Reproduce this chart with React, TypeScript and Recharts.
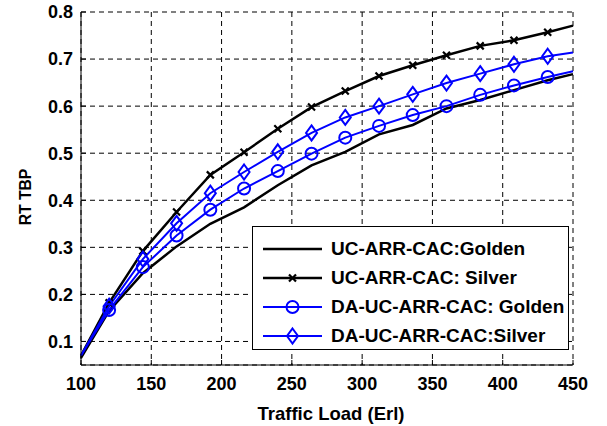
import React from 'react';
import { LineChart, Line, XAxis, YAxis, CartesianGrid, Legend } from 'recharts';

// Traffic load (Erl) sample points
const loads = [100, 120, 144, 168, 192, 216, 240, 264, 288, 312, 336, 360, 384, 408, 432, 450];

// RT TBP per scheme / class
const ucGolden = [0.065, 0.165, 0.245, 0.302, 0.35, 0.385, 0.432, 0.474, 0.503, 0.54, 0.56, 0.595, 0.613, 0.634, 0.655, 0.668];
const ucSilver = [0.07, 0.182, 0.292, 0.375, 0.454, 0.502, 0.552, 0.598, 0.632, 0.664, 0.687, 0.708, 0.728, 0.74, 0.757, 0.771];
const daGolden = [0.07, 0.167, 0.258, 0.325, 0.38, 0.425, 0.462, 0.499, 0.533, 0.558, 0.581, 0.6, 0.624, 0.644, 0.662, 0.674];
const daSilver = [0.07, 0.175, 0.275, 0.351, 0.415, 0.46, 0.503, 0.543, 0.576, 0.6, 0.625, 0.649, 0.669, 0.689, 0.706, 0.714];

const xTicks = [100, 150, 200, 250, 300, 350, 400, 450];
const yTicks = [0.1, 0.2, 0.3, 0.4, 0.5, 0.6, 0.7, 0.8];

const FONT = '"Liberation Sans", Arial, Helvetica, sans-serif';
const BLUE = '#0000ff';

type Marker = 'none' | 'cross' | 'circle' | 'diamond';

const series = [
  { key: 'ucGolden', name: 'UC-ARR-CAC:Golden', color: '#000000', width: 2.5, marker: 'none' as Marker },
  { key: 'ucSilver', name: 'UC-ARR-CAC: Silver', color: '#000000', width: 2.5, marker: 'cross' as Marker },
  { key: 'daGolden', name: 'DA-UC-ARR-CAC: Golden', color: BLUE, width: 2, marker: 'circle' as Marker },
  { key: 'daSilver', name: 'DA-UC-ARR-CAC:Silver', color: BLUE, width: 2, marker: 'diamond' as Marker },
];

const data = loads.map((load, i) => ({
  load,
  ucGolden: ucGolden[i],
  ucSilver: ucSilver[i],
  daGolden: daGolden[i],
  daSilver: daSilver[i],
}));

const MarkerShape = ({ type, cx, cy, color }: { type: Marker; cx: number; cy: number; color: string }) => {
  if (type === 'cross') {
    const s = 3.5;
    return (
      <path
        d={`M${cx - s},${cy - s}L${cx + s},${cy + s}M${cx - s},${cy + s}L${cx + s},${cy - s}`}
        stroke={color}
        strokeWidth={2.2}
        fill="none"
      />
    );
  }
  if (type === 'circle') {
    return <circle cx={cx} cy={cy} r={6} stroke={color} strokeWidth={2} fill="none" />;
  }
  if (type === 'diamond') {
    return (
      <path
        d={`M${cx},${cy - 7.5}L${cx + 5.5},${cy}L${cx},${cy + 7.5}L${cx - 5.5},${cy}Z`}
        stroke={color}
        strokeWidth={2}
        fill="none"
      />
    );
  }
  return null;
};

// markers only on interior samples; the end points sit on the axes limits
const makeDot = (type: Marker, color: string) => (props: any) => {
  const { cx, cy, index } = props;
  if (type === 'none' || index === 0 || index === loads.length - 1) {
    return <g key={`dot-${index}`} />;
  }
  return (
    <g key={`dot-${index}`}>
      <MarkerShape type={type} cx={cx} cy={cy} color={color} />
    </g>
  );
};

const LegendBox = () => (
  <div
    style={{
      width: 317,
      height: 124,
      boxSizing: 'border-box',
      border: '1.5px solid #000',
      background: '#fff',
      paddingTop: 7,
      fontFamily: FONT,
      fontWeight: 'bold',
      fontSize: 19,
      color: '#000',
    }}
  >
    {series.map(s => (
      <div key={s.key} style={{ display: 'flex', alignItems: 'center', height: 29 }}>
        <svg width={78} height={20} style={{ flexShrink: 0 }}>
          <line x1={10} y1={10} x2={69} y2={10} stroke={s.color} strokeWidth={s.width} />
          <MarkerShape type={s.marker} cx={39.5} cy={10} color={s.color} />
        </svg>
        <span style={{ whiteSpace: 'nowrap' }}>{s.name}</span>
      </div>
    ))}
  </div>
);

const tickStyle = { fontFamily: FONT, fontWeight: 'bold' as const, fontSize: 18, fill: '#000' };

export default function App() {
  return (
    <div style={{ position: 'absolute', left: 0, top: 0, background: '#fff' }}>
      <LineChart width={607} height={426} data={data} margin={{ top: 12, right: 34, bottom: 0, left: 0 }}>
        <CartesianGrid stroke="#000" strokeDasharray="5 4" strokeWidth={1} />
        <XAxis
          dataKey="load"
          type="number"
          domain={[100, 450]}
          ticks={xTicks}
          height={61}
          tick={tickStyle}
          tickSize={-5}
          tickMargin={17}
          tickLine={{ stroke: '#000' }}
          axisLine={{ stroke: '#000' }}
          label={{
            content: () => (
              <text x={331} y={420} textAnchor="middle" fontFamily={FONT} fontWeight="bold" fontSize={18.5} fill="#000">
                Traffic Load (Erl)
              </text>
            ),
          }}
        />
        <YAxis
          type="number"
          domain={[0.05, 0.8]}
          ticks={yTicks}
          width={81}
          tick={tickStyle}
          tickFormatter={(v: number) => v.toFixed(1)}
          tickSize={-5}
          tickMargin={13}
          tickLine={{ stroke: '#000' }}
          axisLine={{ stroke: '#000' }}
          label={{
            content: () => (
              <text
                x={25}
                y={197}
                transform="rotate(-90, 25, 197)"
                textAnchor="middle"
                dominantBaseline="central"
                fontFamily={FONT}
                fontWeight="bold"
                fontSize={15.7}
                fill="#000"
              >
                RT TBP
              </text>
            ),
          }}
        />
        {series.map(s => (
          <Line
            key={s.key}
            dataKey={s.key}
            name={s.name}
            type="linear"
            stroke={s.color}
            strokeWidth={s.width}
            dot={makeDot(s.marker, s.color)}
            activeDot={false}
            isAnimationActive={false}
          />
        ))}
        <Legend
          layout="horizontal"
          verticalAlign="middle"
          align="center"
          content={() => <LegendBox />}
          wrapperStyle={{ left: 252, top: 226, width: 317, height: 124 }}
        />
      </LineChart>
    </div>
  );
}
